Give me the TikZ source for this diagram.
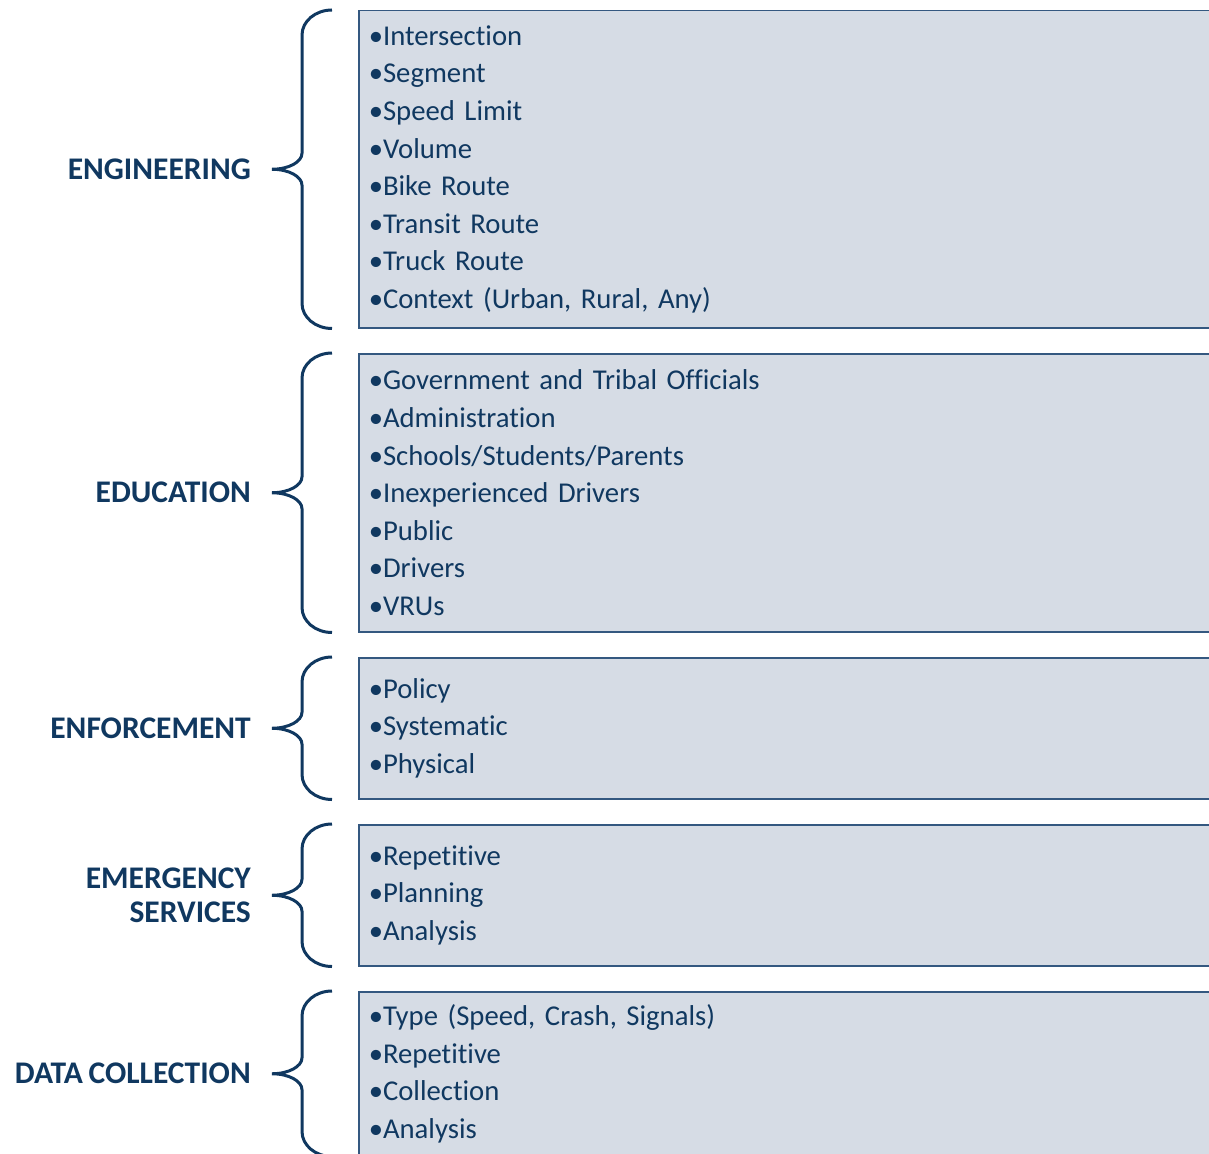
\documentclass[tikz,border=0pt]{standalone}
\usepackage{fontspec}
\setmainfont{Carlito}[Ligatures=NoCommon, WordSpace=0.8]
\usetikzlibrary{positioning}
\definecolor{NavyText}{RGB}{16,56,96}
\definecolor{PaleSlate}{RGB}{214,220,229}
\definecolor{SlateEdge}{RGB}{52,88,128}

\begin{document}
\begin{tikzpicture}[x=1pt, y=1pt, node distance=24.5pt,
    itembox/.style={draw=SlateEdge, line width=1.5pt, fill=PaleSlate, anchor=north west, text width=850pt, inner xsep=10pt, inner ysep=0pt, align=left, text=NavyText, font=\fontsize{28.7}{37.6}\selectfont},
    heading/.style={inner sep=0pt, align=right, text=NavyText, font=\fontsize{31.5}{34}\selectfont\bfseries},
    curly/.style={draw=NavyText, line width=3pt}]
    \useasboundingbox (0,0) rectangle (1209,-1153);

    % boxes
    \node [itembox, minimum height=317pt] (eng) at (358,-10) {•Intersection\\•Segment\\•Speed Limit\\•Volume\\•Bike Route\\•Transit Route\\•Truck Route\\•Context (Urban, Rural, Any)};
    \node [itembox, minimum height=278pt, below=of eng] (edu) {•Government and Tribal Officials\\•Administration\\•Schools/Students/Parents\\•Inexperienced Drivers\\•Public\\•Drivers\\•VRUs};
    \node [itembox, minimum height=141pt, below=of edu] (enf) {•Policy\\•Systematic\\•Physical};
    \node [itembox, minimum height=141pt, below=of enf] (ems) {•Repetitive\\•Planning\\•Analysis};
    \node [itembox, minimum height=164pt, below=of ems] (data) {•Type (Speed, Crash, Signals)\\•Repetitive\\•Collection\\•Analysis};

    % headings
    \node [heading, left=107pt of eng.west] (engl) {ENGINEERING};
    \node [heading, left=107pt of edu.west] (edul) {EDUCATION};
    \node [heading, left=107pt of enf.west] (enfl) {ENFORCEMENT};
    \node [heading, left=107pt of ems.west] (emsl) {EMERGENCY\\SERVICES};
    \node [heading, left=107pt of data.west] (datal) {DATA COLLECTION};

    % braces
    \draw [curly] ([xshift=-26pt]eng.north west) arc[start angle=90, end angle=180, x radius=30pt, y radius=25pt] -- ([xshift=-56pt,yshift=16pt]eng.west) arc[start angle=0, end angle=-90, x radius=30pt, y radius=16pt] arc[start angle=90, end angle=0, x radius=30pt, y radius=16pt] -- ([xshift=-56pt,yshift=25pt]eng.south west) arc[start angle=180, end angle=270, x radius=30pt, y radius=25pt];
    \draw [curly] ([xshift=-26pt]edu.north west) arc[start angle=90, end angle=180, x radius=30pt, y radius=25pt] -- ([xshift=-56pt,yshift=16pt]edu.west) arc[start angle=0, end angle=-90, x radius=30pt, y radius=16pt] arc[start angle=90, end angle=0, x radius=30pt, y radius=16pt] -- ([xshift=-56pt,yshift=25pt]edu.south west) arc[start angle=180, end angle=270, x radius=30pt, y radius=25pt];
    \draw [curly] ([xshift=-26pt]enf.north west) arc[start angle=90, end angle=180, x radius=30pt, y radius=25pt] -- ([xshift=-56pt,yshift=16pt]enf.west) arc[start angle=0, end angle=-90, x radius=30pt, y radius=16pt] arc[start angle=90, end angle=0, x radius=30pt, y radius=16pt] -- ([xshift=-56pt,yshift=25pt]enf.south west) arc[start angle=180, end angle=270, x radius=30pt, y radius=25pt];
    \draw [curly] ([xshift=-26pt]ems.north west) arc[start angle=90, end angle=180, x radius=30pt, y radius=25pt] -- ([xshift=-56pt,yshift=16pt]ems.west) arc[start angle=0, end angle=-90, x radius=30pt, y radius=16pt] arc[start angle=90, end angle=0, x radius=30pt, y radius=16pt] -- ([xshift=-56pt,yshift=25pt]ems.south west) arc[start angle=180, end angle=270, x radius=30pt, y radius=25pt];
    \draw [curly] ([xshift=-26pt]data.north west) arc[start angle=90, end angle=180, x radius=30pt, y radius=25pt] -- ([xshift=-56pt,yshift=16pt]data.west) arc[start angle=0, end angle=-90, x radius=30pt, y radius=16pt] arc[start angle=90, end angle=0, x radius=30pt, y radius=16pt] -- ([xshift=-56pt,yshift=25pt]data.south west) arc[start angle=180, end angle=270, x radius=30pt, y radius=25pt];
\end{tikzpicture}
\end{document}
